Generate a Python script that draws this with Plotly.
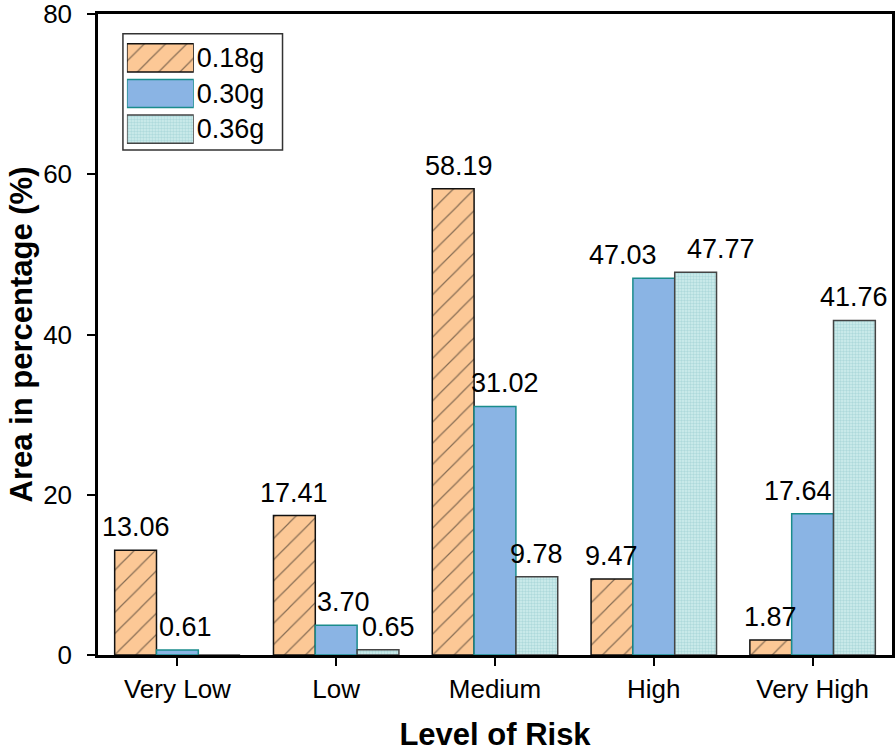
import plotly.graph_objects as go

categories = ["Very Low", "Low", "Medium", "High", "Very High"]
series_names = ["0.18g", "0.30g", "0.36g"]
v018 = [13.06, 17.41, 58.19, 9.47, 1.87]
v030 = [0.61, 3.70, 31.02, 47.03, 17.64]
v036 = [0, 0.65, 9.78, 47.77, 41.76]
y_ticks = [0, 20, 40, 60, 80]

# small horizontal nudges of value labels (px), as placed in the original
label_nudge = [
    [0, 0, 6, 0, 0],
    [8, 7, 10, -31, -15],
    [0, 10, 0, 25, 0],
]

FONT = "Liberation Sans, Arial, sans-serif"

styles = [
    dict(color="#FCC896", line=dict(color="#111111", width=1.5),
         pattern=dict(shape="/", fgcolor="#111111", bgcolor="#FCC896",
                      size=15, solidity=0.08)),
    dict(color="#8AB4E4", line=dict(color="#1A8C8C", width=1.5)),
    dict(color="#C4E8E8", line=dict(color="#444444", width=1.5),
         pattern=dict(shape=".", fgcolor="#8CC4C8", bgcolor="#D0EEEE",
                      size=3, solidity=0.5)),
]

W, H = 896, 752
ML, MR, MT, MB = 98, 4, 14, 97
BARGAP = 0.21
n_series = 3
cat_px = (W - ML - MR) / len(categories)
bar_px = cat_px * (1 - BARGAP) / n_series

fig = go.Figure()
annotations = []
for si, (name, vals, st) in enumerate(zip(series_names, [v018, v030, v036], styles)):
    fig.add_trace(go.Bar(
        name=name, x=categories, y=vals,
        marker=st, showlegend=False,
    ))
    for ci, (cat, v) in enumerate(zip(categories, vals)):
        if v == 0:
            continue
        annotations.append(dict(
            x=cat, y=v, xref="x", yref="y", text=f"{v:.2f}", showarrow=False,
            xanchor="center", yanchor="bottom",
            xshift=(si - 1) * bar_px + label_nudge[si][ci], yshift=6,
            font=dict(family=FONT, size=27, color="black"),
        ))

# custom legend: large swatches drawn as bars on an inset axis
for name, st in zip(series_names, styles):
    fig.add_trace(go.Bar(
        x=[1], y=[name], orientation="h", xaxis="x2", yaxis="y2",
        text=[name], textposition="outside", cliponaxis=False,
        constraintext="none", textfont=dict(family=FONT, size=27, color="black"),
        marker=st, showlegend=False, hoverinfo="skip",
    ))

fig.update_layout(
    width=W, height=H,
    margin=dict(l=ML, r=MR, t=MT, b=MB),
    paper_bgcolor="white", plot_bgcolor="white",
    barmode="group", bargap=BARGAP, bargroupgap=0,
    font=dict(family=FONT, color="black"),
    showlegend=False,
    annotations=annotations,
    xaxis=dict(
        title=dict(text="<b>Level of Risk</b>", font=dict(family=FONT, size=31), standoff=28),
        showline=True, linecolor="black", linewidth=2.5, mirror=True,
        ticks="outside", ticklen=8, tickwidth=2, tickcolor="black",
        tickfont=dict(family=FONT, size=26), ticklabelstandoff=1,
        automargin=False,
    ),
    yaxis=dict(
        title=dict(text="<b>Area in percentage (%)</b>", font=dict(family=FONT, size=31), standoff=2),
        range=[0, 80], tickvals=y_ticks, ticktext=[str(t) for t in y_ticks],
        showline=True, linecolor="black", linewidth=2.5, mirror=True,
        ticks="outside", ticklen=8, tickwidth=2, tickcolor="black",
        tickfont=dict(family=FONT, size=26), showgrid=False, zeroline=False,
        ticklabelstandoff=10, ticklabeloverflow="allow", automargin=False,
    ),
    xaxis2=dict(domain=[0.0364, 0.1206], anchor="y2", range=[0, 1],
                visible=False, fixedrange=True),
    yaxis2=dict(domain=[0.7925, 0.9594], anchor="x2", autorange="reversed",
                visible=False, fixedrange=True),
    shapes=[dict(type="rect", xref="paper", yref="paper",
                 x0=0.0314, x1=0.2324, y0=0.788, y1=0.969,
                 line=dict(color="#333333", width=1.5), fillcolor="rgba(0,0,0,0)",
                 layer="below")],
)

fig.write_html(
    "out.html",
    config={"displayModeBar": False},
    post_script="document.body.style.margin='0';document.body.style.padding='0';"
                "document.body.style.overflow='hidden';",
)
